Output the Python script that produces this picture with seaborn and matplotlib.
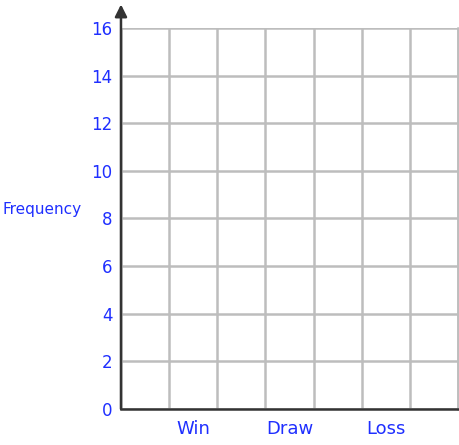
"""Blank frequency chart template: Win / Draw / Loss."""

import matplotlib.pyplot as plt
import numpy as np
import pandas as pd
import seaborn as sns

categories = ["Win", "Draw", "Loss"]
frequency = [0, 0, 0]  # empty template, nothing filled in yet
y_ticks = [0, 2, 4, 6, 8, 10, 12, 14, 16]
n_columns = 7

BLUE = "#1f2fff"
GRID = "#bdbdbd"

sns.set_theme(style="white")
plt.rcParams["font.family"] = ["DejaVu Sans"]

df = pd.DataFrame({"result": categories, "frequency": frequency,
                   "pos": [1.5 + 2 * i for i in range(len(categories))]})

fig = plt.figure(figsize=(4.6, 4.45), dpi=100)
ax = fig.add_axes([0.263, 0.081, 0.733, 0.856])

sns.barplot(data=df, x="pos", y="frequency", native_scale=True, width=1.0,
            color=BLUE, ax=ax)

ax.set_xlim(0, n_columns)
ax.set_ylim(0, 16)
ax.set_xticks(np.arange(0, n_columns + 1), minor=True)
ax.set_yticks(y_ticks)
ax.set_yticklabels([str(v) for v in y_ticks], color=BLUE, fontsize=12)
ax.set_xticks(df["pos"])
ax.set_xticklabels(categories, color=BLUE, fontsize=13)
ax.tick_params(axis="x", which="both", length=0, pad=8)
ax.tick_params(axis="y", length=0, pad=6)

ax.grid(True, which="minor", axis="x", color=GRID, linewidth=1.8)
ax.grid(True, which="major", axis="y", color=GRID, linewidth=1.8)
ax.set_axisbelow(True)
ax.set_xlabel("")
ax.set_ylabel("")

for side in ["top"]:
    ax.spines[side].set_visible(False)
ax.spines["right"].set_color(GRID)
ax.spines["right"].set_linewidth(1.8)
ax.spines["bottom"].set_color("#333333")
ax.spines["bottom"].set_linewidth(1.8)
ax.spines["left"].set_visible(False)

# y axis drawn as an arrow running past the top of the grid
ax.annotate("", xy=(0, 1.062), xytext=(0, 0), xycoords="axes fraction",
            arrowprops=dict(arrowstyle="-|>,head_length=0.6,head_width=0.3",
                            color="#333333", linewidth=1.8, shrinkA=0, shrinkB=0),
            annotation_clip=False)

fig.text(0.005, 0.530, "Frequency", color=BLUE, fontsize=11, va="center", ha="left")

fig.savefig("out.png", dpi=100)
